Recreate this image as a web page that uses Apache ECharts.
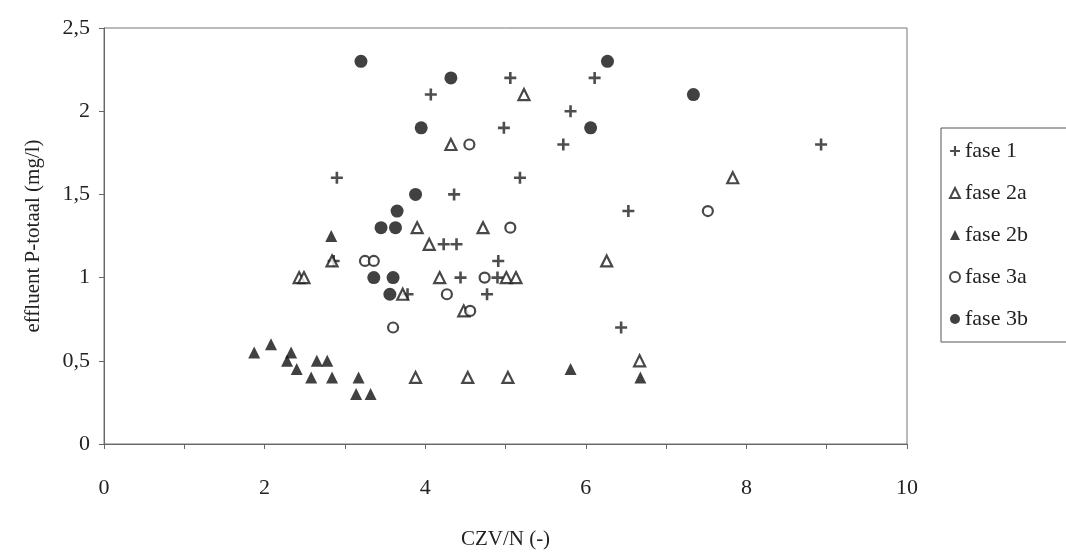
<!DOCTYPE html>
<html>
<head>
<meta charset="utf-8">
<script src="https://cdn.jsdelivr.net/npm/echarts@6/dist/echarts.min.js"></script>
<style>
  html, body { margin: 0; padding: 0; background: #fff; }
  #chart { width: 1066px; height: 555px; }
</style>
</head>
<body>
<div id="chart"></div>
<script>
// data: [CZV/N, effluent P-totaal]
var fase1 = [
  [2.9, 1.6], [4.07, 2.1], [5.06, 2.2], [6.11, 2.2], [5.81, 2.0], [4.98, 1.9],
  [5.72, 1.8], [5.18, 1.6], [4.36, 1.5], [6.53, 1.4], [8.93, 1.8],
  [4.23, 1.2], [4.39, 1.2], [4.91, 1.1], [4.44, 1.0], [4.9, 1.0],
  [3.78, 0.9], [4.77, 0.9], [6.44, 0.7], [2.86, 1.1]
];
var fase2a = [
  [5.23, 2.1], [4.32, 1.8], [7.83, 1.6], [3.9, 1.3], [4.72, 1.3], [4.05, 1.2],
  [2.84, 1.1], [6.26, 1.1], [2.43, 1.0], [2.49, 1.0], [4.18, 1.0], [5.01, 1.0],
  [5.13, 1.0], [3.72, 0.9], [4.48, 0.8], [6.67, 0.5], [3.88, 0.4], [4.53, 0.4],
  [5.03, 0.4]
];
var fase2b = [
  [2.83, 1.25], [1.87, 0.55], [2.08, 0.6], [2.33, 0.55], [2.28, 0.5], [2.4, 0.45],
  [2.65, 0.5], [2.78, 0.5], [2.58, 0.4], [2.84, 0.4], [3.17, 0.4], [3.14, 0.3],
  [3.32, 0.3], [5.81, 0.45], [6.68, 0.4]
];
var fase3a = [
  [4.55, 1.8], [7.52, 1.4], [5.06, 1.3], [3.25, 1.1], [3.36, 1.1], [4.74, 1.0],
  [4.27, 0.9], [4.56, 0.8], [3.6, 0.7]
];
var fase3b = [
  [3.2, 2.3], [6.27, 2.3], [4.32, 2.2], [7.34, 2.1], [3.95, 1.9], [6.06, 1.9],
  [3.88, 1.5], [3.65, 1.4], [3.45, 1.3], [3.63, 1.3], [3.36, 1.0], [3.6, 1.0],
  [3.56, 0.9]
];
var seriesNames = ['fase 1', 'fase 2a', 'fase 2b', 'fase 3a', 'fase 3b'];

var plusIcon = 'path://M4.7,0H7.3V4.7H12V7.3H7.3V12H4.7V7.3H0V4.7H4.7Z';
var font = 'Liberation Serif';
var ink = '#222';

var chart = echarts.init(document.getElementById('chart'));

var option = {
  animation: false,
  backgroundColor: '#fff',
  textStyle: { fontFamily: font, color: ink },
  grid: {
    left: 104,
    right: 159,
    top: 28,
    bottom: 109,
    show: true,
    borderColor: '#777',
    borderWidth: 1
  },
  legend: {
    orient: 'vertical',
    left: 941,
    top: 128,
    itemWidth: 10,
    itemHeight: 10,
    itemGap: 20,
    padding: [12, 40, 12, 8],
    borderColor: '#555',
    borderWidth: 1,
    textStyle: { fontFamily: font, fontSize: 22, color: ink },
    data: seriesNames
  },
  xAxis: {
    type: 'value',
    min: 0,
    max: 10,
    interval: 1,
    name: 'CZV/N (-)',
    nameLocation: 'middle',
    nameGap: 85,
    nameTextStyle: { fontFamily: font, fontSize: 21, color: ink },
    axisLine: { lineStyle: { color: '#666', width: 1 } },
    axisTick: { show: true, length: 5, lineStyle: { color: '#666' } },
    axisLabel: {
      margin: 33,
      fontFamily: font,
      fontSize: 22,
      color: ink,
      formatter: function (v) { return v % 2 === 0 ? String(v) : ''; }
    },
    splitLine: { show: false }
  },
  yAxis: {
    type: 'value',
    min: 0,
    max: 2.5,
    interval: 0.5,
    name: 'effluent P-totaal (mg/l)',
    nameLocation: 'middle',
    nameGap: 60,
    nameTextStyle: { fontFamily: font, fontSize: 21, color: ink },
    axisLine: { show: true, lineStyle: { color: '#666', width: 1 } },
    axisTick: { show: true, length: 5, lineStyle: { color: '#666' } },
    axisLabel: {
      margin: 14,
      fontFamily: font,
      fontSize: 22,
      color: ink,
      formatter: function (v) { return String(v).replace('.', ','); }
    },
    splitLine: { show: false }
  },
  series: [
    {
      name: 'fase 1',
      type: 'scatter',
      data: fase1,
      symbol: plusIcon,
      symbolSize: 12,
      itemStyle: { color: '#222' }
    },
    {
      name: 'fase 2a',
      type: 'scatter',
      data: fase2a,
      symbol: 'triangle',
      symbolSize: 11,
      itemStyle: { color: '#fff', borderColor: '#1a1a1a', borderWidth: 2.2 }
    },
    {
      name: 'fase 2b',
      type: 'scatter',
      data: fase2b,
      symbol: 'triangle',
      symbolSize: 12,
      itemStyle: { color: '#111' }
    },
    {
      name: 'fase 3a',
      type: 'scatter',
      data: fase3a,
      symbol: 'circle',
      symbolSize: 10,
      itemStyle: { color: '#fff', borderColor: '#1a1a1a', borderWidth: 2.2 }
    },
    {
      name: 'fase 3b',
      type: 'scatter',
      data: fase3b,
      symbol: 'circle',
      symbolSize: 13,
      itemStyle: { color: '#111' }
    }
  ]
};

chart.setOption(option);
</script>
</body>
</html>
